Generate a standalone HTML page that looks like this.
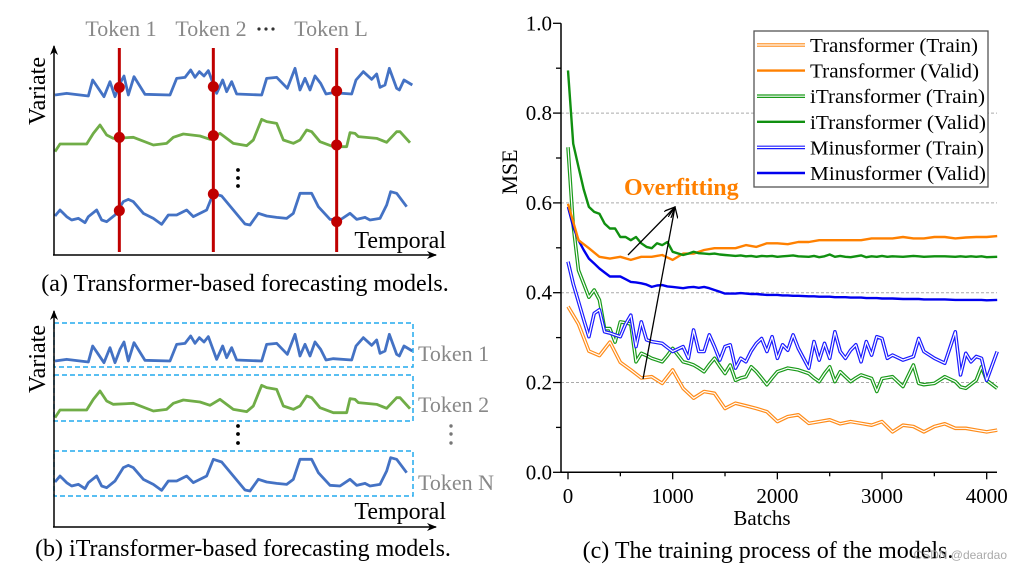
<!DOCTYPE html>
<html><head><meta charset="utf-8"><style>
body{margin:0;background:#fff;}
svg{display:block;font-family:"Liberation Serif",serif;}
</style></head><body>
<svg id="svg" width="1023" height="570" viewBox="0 0 1023 570" xmlns="http://www.w3.org/2000/svg">
<defs>
<marker id="ah" markerWidth="10" markerHeight="8" refX="9" refY="4" orient="auto" markerUnits="userSpaceOnUse"><path d="M0,0 L10,4 L0,8 L3,4 Z" fill="#000"/></marker>
<marker id="ah2" markerWidth="12" markerHeight="10" refX="11" refY="5" orient="auto" markerUnits="userSpaceOnUse"><path d="M0,0 L11,5 L0,10" fill="none" stroke="#000" stroke-width="1.3"/></marker>
</defs>
<g id="panelA"></g>
<g id="panelB"></g>
<g id="chart"></g>
<text x="245" y="291" font-size="24" text-anchor="middle">(a) Transformer-based forecasting models.</text>
<text x="243" y="556" font-size="24" text-anchor="middle">(b) iTransformer-based forecasting models.</text>
<text x="768" y="558" font-size="24" text-anchor="middle">(c) The training process of the models.</text>
<text x="1007" y="559" font-size="12" fill="#aaa" text-anchor="end" font-family="Liberation Sans, sans-serif">CSDN @deardao</text>
</svg>
<script>
const NS="http://www.w3.org/2000/svg";
const sigBlue1=[[165,285],[200,280],[265,288],[278,240],[295,265],[312,290],[330,245],[345,290],[360,250],[372,228],[385,285],[402,230],[435,283],[510,285],[530,235],[555,232],[572,210],[585,232],[598,215],[612,228],[625,212],[650,280],[668,240],[680,275],[695,245],[710,282],[785,285],[800,235],[830,232],[862,265],[885,205],[900,270],[915,235],[930,270],[945,228],[962,250],[978,282],[1000,278],[1055,282],[1068,240],[1090,215],[1115,238],[1130,222],[1140,262],[1155,255],[1168,205],[1190,265],[1198,270],[1212,240],[1237,255]];
const sigGreen=[[165,455],[180,432],[260,432],[280,400],[300,375],[320,405],[340,415],[400,412],[460,435],[500,430],[520,412],[550,402],[600,408],[630,418],[660,400],[700,430],[740,437],[760,420],[785,358],[800,365],[830,370],[850,420],[880,430],[900,420],[920,390],[935,395],[960,425],[1000,440],[1040,440],[1050,398],[1065,400],[1075,410],[1130,415],[1160,427],[1190,395],[1200,395],[1230,428]];
const sigBlue3=[[165,648],[180,630],[200,650],[215,660],[235,655],[255,668],[265,650],[290,630],[305,660],[320,665],[345,645],[370,605],[385,598],[400,605],[430,640],[460,655],[485,673],[505,645],[530,645],[560,630],[580,650],[620,630],[640,580],[665,588],[700,630],[735,672],[750,675],[775,640],[800,648],[830,652],[860,655],[880,640],[900,580],[935,580],[955,620],[990,658],[1020,660],[1050,640],[1070,658],[1095,652],[1110,660],[1140,655],[1160,615],[1172,575],[1190,580],[1220,620]];
const tokenX=[358,640,1010];
const dotsY=[[262,412,632],[260,407,582],[273,435,665]];

const xB=[0,100,200,300,400,500,600,700,800,900,1000,1100,1200,1300,1400,1500,1600,1700,1800,1900,2000,2100,2200,2300,2400,2500,2600,2700,2800,2900,3000,3100,3200,3300,3400,3500,3600,3700,3800,3900,4000,4100];
const trTrain=[0.369,0.33,0.27,0.26,0.29,0.245,0.228,0.21,0.213,0.198,0.228,0.187,0.165,0.18,0.176,0.142,0.154,0.148,0.142,0.135,0.113,0.124,0.128,0.109,0.113,0.117,0.108,0.113,0.109,0.105,0.113,0.09,0.105,0.102,0.09,0.102,0.108,0.098,0.098,0.094,0.09,0.094];
const trValid=[0.598,0.517,0.499,0.48,0.476,0.48,0.473,0.48,0.48,0.484,0.473,0.487,0.487,0.495,0.499,0.499,0.499,0.506,0.502,0.51,0.51,0.508,0.513,0.513,0.517,0.517,0.517,0.517,0.517,0.521,0.521,0.521,0.524,0.521,0.521,0.524,0.524,0.521,0.523,0.524,0.524,0.526];
const xB2=[0,50,100,150,200,250,300,350,400,450,500,550,600,650,700,750,800,850,900,950,1000,1100,1150,1200,1250,1300,1350,1400,1450,1500,1550,1600,1650,1700,1750,1800,1850,1900,1950,2000,2050,2100,2150,2200,2300,2350,2400,2450,2500,2550,2600,2650,2700,2750,2800,2850,2900,2950,3000,3050,3100,3200,3300,3350,3400,3500,3600,3700,3750,3800,3850,3900,3950,4000,4100];
const itTrain=[0.724,0.55,0.45,0.42,0.39,0.406,0.384,0.32,0.32,0.29,0.335,0.333,0.33,0.246,0.265,0.26,0.254,0.25,0.246,0.26,0.276,0.246,0.243,0.239,0.232,0.224,0.24,0.254,0.236,0.22,0.239,0.205,0.21,0.213,0.235,0.224,0.21,0.195,0.21,0.224,0.228,0.232,0.23,0.228,0.22,0.21,0.202,0.22,0.235,0.202,0.224,0.213,0.202,0.21,0.217,0.213,0.209,0.18,0.209,0.211,0.213,0.191,0.239,0.198,0.195,0.198,0.213,0.202,0.19,0.187,0.196,0.205,0.235,0.205,0.187];
const mnTrain=[0.469,0.42,0.38,0.34,0.302,0.354,0.362,0.313,0.31,0.306,0.302,0.33,0.35,0.28,0.335,0.295,0.291,0.289,0.287,0.278,0.269,0.28,0.254,0.317,0.269,0.269,0.306,0.28,0.25,0.28,0.284,0.232,0.254,0.246,0.27,0.287,0.298,0.269,0.302,0.254,0.284,0.272,0.306,0.276,0.232,0.291,0.25,0.287,0.254,0.313,0.269,0.254,0.272,0.284,0.246,0.291,0.261,0.302,0.298,0.254,0.261,0.25,0.258,0.298,0.269,0.254,0.243,0.313,0.217,0.265,0.246,0.258,0.254,0.205,0.269];
const itValid=[0.895,0.732,0.68,0.63,0.591,0.58,0.576,0.554,0.543,0.543,0.524,0.524,0.517,0.524,0.51,0.502,0.499,0.51,0.506,0.513,0.491,0.484,0.487,0.491,0.488,0.487,0.486,0.487,0.485,0.484,0.483,0.482,0.483,0.481,0.482,0.48,0.482,0.481,0.482,0.48,0.481,0.482,0.483,0.481,0.48,0.482,0.479,0.481,0.485,0.48,0.482,0.48,0.479,0.481,0.483,0.479,0.481,0.48,0.482,0.48,0.481,0.48,0.482,0.481,0.48,0.481,0.481,0.48,0.481,0.48,0.481,0.48,0.481,0.479,0.48];
const mnValid=[0.591,0.547,0.517,0.495,0.476,0.465,0.454,0.445,0.436,0.436,0.436,0.43,0.424,0.423,0.421,0.418,0.413,0.416,0.417,0.414,0.413,0.41,0.412,0.413,0.411,0.413,0.41,0.406,0.402,0.398,0.398,0.398,0.399,0.398,0.397,0.397,0.396,0.395,0.395,0.395,0.394,0.394,0.393,0.393,0.392,0.392,0.391,0.391,0.391,0.39,0.39,0.39,0.389,0.389,0.389,0.388,0.388,0.388,0.387,0.387,0.387,0.386,0.386,0.386,0.385,0.385,0.385,0.384,0.384,0.384,0.384,0.384,0.384,0.383,0.384];
const yTicks=["0.0","0.2","0.4","0.6","0.8","1.0"];
const xTicks=["0","1000","2000","3000","4000"];
const legendLabels=["Transformer (Train)","Transformer (Valid)","iTransformer (Train)","iTransformer (Valid)","Minusformer (Train)","Minusformer (Valid)"];

function el(tag,attrs,parent,txt){const e=document.createElementNS(NS,tag);for(const k in attrs)e.setAttribute(k,attrs[k]);if(txt!==undefined)e.textContent=txt;parent.appendChild(e);return e;}

const A=document.getElementById('panelA');
function drawPanel(g,dy){
  const cols=['#4472c4','#70ad47','#4472c4'];
  [sigBlue1,sigGreen,sigBlue3].forEach((s,i)=>{
    const p=el('polyline',{points:s.map(q=>(q[0]/3)+','+(q[1]/3+dy)).join(' '),fill:'none',stroke:cols[i],'stroke-width':2.8,'stroke-linejoin':'round'},g);
    
    
  });
}
drawPanel(A,0);
el('line',{x1:54,y1:255,x2:54,y2:46,stroke:'#000','stroke-width':1.5,'marker-end':'url(#ah)'},A);
el('line',{x1:53,y1:255,x2:436,y2:255,stroke:'#000','stroke-width':1.5,'marker-end':'url(#ah)'},A);
tokenX.forEach((x,i)=>{
  const l=el('line',{x1:x/3,y1:48,x2:x/3,y2:252,stroke:'#c00000','stroke-width':3},A);
  
  
  dotsY[i].forEach(y=>{const c=el('circle',{cx:x/3,cy:y/3,r:5.5,fill:'#c00000'},A);
    
    });
});
[['Token 1',121],['Token 2',211],['Token L',331]].forEach(t=>{const e=el('text',{x:t[1],y:36,'font-size':22,fill:'#888','text-anchor':'middle'},A,t[0]);
  
  });
[259,266,273].forEach(x=>el('circle',{cx:x,cy:29,r:1.6,fill:'#333'},A));
[170,178,186].forEach(y=>el('circle',{cx:238,cy:y,r:1.9,fill:'#000'},A));
el('text',{x:446,y:248,'font-size':24,'text-anchor':'end'},A,'Temporal');
el('text',{x:0,y:0,'font-size':24,'text-anchor':'middle',transform:'translate(45,91) rotate(-90)'},A,'Variate');

const B=document.getElementById('panelB');
drawPanel(B,266);
[[323,367],[375,421],[451,496]].forEach((b,i)=>{const r=el('rect',{x:54,y:b[0],width:359,height:b[1]-b[0],fill:'none',stroke:'#22aaee','stroke-width':1.5,'stroke-dasharray':'5,3'},B);
  
  });
el('line',{x1:54,y1:527,x2:54,y2:311,stroke:'#000','stroke-width':1.5,'marker-end':'url(#ah)'},B);
el('line',{x1:53,y1:527,x2:436,y2:527,stroke:'#000','stroke-width':1.5,'marker-end':'url(#ah)'},B);
[['Token 1',361],['Token 2',412],['Token N',490]].forEach(t=>{const e=el('text',{x:418,y:t[1],'font-size':22,fill:'#888'},B,t[0]);
  
  });
[426,434,443].forEach(y=>{el('circle',{cx:238,cy:y,r:1.9,fill:'#000'},B);el('circle',{cx:451,cy:y,r:1.7,fill:'#777'},B);});
el('text',{x:446,y:519,'font-size':24,'text-anchor':'end'},B,'Temporal');
el('text',{x:0,y:0,'font-size':24,'text-anchor':'middle',transform:'translate(45,359) rotate(-90)'},B,'Variate');

const C=document.getElementById('chart');
const X0=561,X1=997,Y0=472.3,YT=23.3;
const xs=v=>568+v*(986.7-568)/4000;
const ys=v=>Y0-v*(Y0-YT);
[0.2,0.4,0.6,0.8].forEach(v=>{const g=el('line',{x1:X0,y1:ys(v),x2:X1,y2:ys(v),stroke:'#aaa','stroke-width':1,'stroke-dasharray':'3,2'},C);
  
  });
function series(xarr,yarr,color,train,name){
  const pts=xarr.map((x,i)=>xs(x).toFixed(1)+','+ys(yarr[i]).toFixed(1)).join(' ');
  const g=el('g',{},C);
  
  
  if(train){el('polyline',{points:pts,fill:'none',stroke:color,'stroke-width':3.6,'stroke-linejoin':'round'},g);
    el('polyline',{points:pts,fill:'none',stroke:'#fff','stroke-width':1.2,'stroke-linejoin':'round'},g);}
  else el('polyline',{points:pts,fill:'none',stroke:color,'stroke-width':2.4,'stroke-linejoin':'round'},g);
}
series(xB,trTrain,'#ff8c1a',true,'transformer-train-line');
series(xB2,itTrain,'#1a9a1a',true,'itransformer-train-line');
series(xB2,mnTrain,'#1a1aff',true,'minusformer-train-line');
series(xB2,mnValid,'#0000ee',false,'minusformer-valid-line');
series(xB,trValid,'#ff8000',false,'transformer-valid-line');
series(xB2,itValid,'#109010',false,'itransformer-valid-line');
el('line',{x1:X0,y1:YT,x2:X0,y2:Y0,stroke:'#000','stroke-width':1.5},C);
el('line',{x1:X0,y1:Y0,x2:X1,y2:Y0,stroke:'#000','stroke-width':1.5},C);
yTicks.forEach((t,i)=>{const v=parseFloat(t);
  el('line',{x1:X0-8,y1:ys(v),x2:X0,y2:ys(v),stroke:'#000','stroke-width':1.3},C);
  if(i<5) el('line',{x1:X0-5,y1:ys(v+0.1),x2:X0,y2:ys(v+0.1),stroke:'#000','stroke-width':1.3},C);
  const e=el('text',{x:X0-9,y:ys(v)+7,'font-size':21,'text-anchor':'end'},C,t);
  
  });
xTicks.forEach(t=>{const v=parseFloat(t);
  el('line',{x1:xs(v),y1:Y0,x2:xs(v),y2:Y0+7,stroke:'#000','stroke-width':1.3},C);
  el('line',{x1:xs(v+500),y1:Y0,x2:xs(v+500),y2:Y0+4,stroke:'#000','stroke-width':1.3},C);
  const e=el('text',{x:xs(v),y:503,'font-size':21,'text-anchor':'middle'},C,t);
  
  });
el('text',{x:762,y:525,'font-size':21,'text-anchor':'middle',},C,'Batchs');
el('text',{x:0,y:0,'font-size':22,'text-anchor':'middle',transform:'translate(517,172) rotate(-90)',},C,'MSE');
el('text',{x:624,y:195,'font-size':24,'font-weight':'bold',fill:'#ff8000',},C,'Overfitting');
el('line',{x1:628,y1:255,x2:675,y2:207,stroke:'#000','stroke-width':1.3,'marker-end':'url(#ah2)'},C);
el('line',{x1:643,y1:379,x2:675,y2:207,stroke:'#000','stroke-width':1.3,'marker-end':'url(#ah2)'},C);
const L=el('g',{},C);
el('rect',{x:754,y:31,width:234,height:156,fill:'#fff',stroke:'#555','stroke-width':1.3},L);
const legC=['#ff8c1a','#ff8000','#1a9a1a','#109010','#1a1aff','#0000ee'];
legendLabels.forEach((lab,i)=>{const y=45+i*25.6;
  const g=el('g',{},L);
  
  
  if(i%2==0){el('line',{x1:757,y1:y,x2:805,y2:y,stroke:legC[i],'stroke-width':3.6},g);el('line',{x1:757,y1:y,x2:805,y2:y,stroke:'#fff','stroke-width':1.2},g);}
  else el('line',{x1:757,y1:y,x2:805,y2:y,stroke:legC[i],'stroke-width':2.4},g);
  el('text',{x:810,y:y+7,'font-size':20.5,textLength:(i%2==1&&i!=1)?176:(i==1?169:(i==4?174:(i==0?168:175))),lengthAdjust:'spacingAndGlyphs'},g,lab);
});
</script>
</body></html>
